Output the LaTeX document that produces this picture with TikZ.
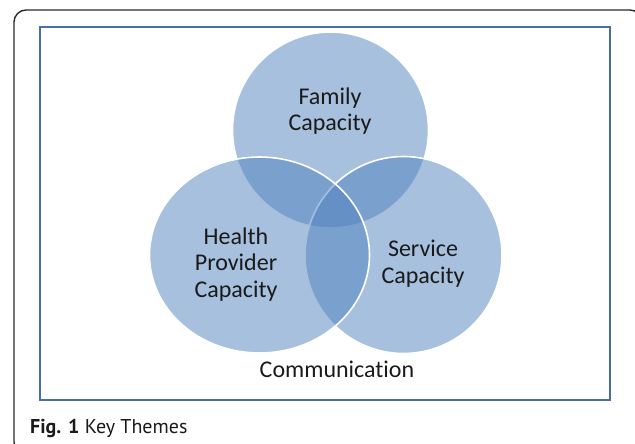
\documentclass[tikz,border=0pt]{standalone}
\usepackage{fontspec}
\setmainfont{Carlito}[Ligatures=NoCommon]
\newfontfamily\captionfont{PT Sans}
\definecolor{themeblue}{HTML}{4F81BD}
\definecolor{framegray}{HTML}{2B2B2B}
\definecolor{panelblue}{HTML}{4A6DA6}
\definecolor{labelink}{HTML}{1A1A1A}
\begin{document}
\begin{tikzpicture}[x=1pt,y=-1pt,
  theme/.style={fill=themeblue, fill opacity=0.5, draw=white, line width=1.6pt},
  themelabel/.style={align=center, font=\fontsize{24}{26.5}\selectfont, text=labelink, inner sep=0pt, anchor=base}]
\useasboundingbox (0,0) rectangle (635,444);
% outer rounded frame and the panel
\draw[framegray, line width=1.4pt, rounded corners=12pt] (14,10) rectangle (642,454);
\draw[panelblue, line width=2.6pt] (40,27) rectangle (610,400);
% the three themes, drawn in stacking order
\path[theme] (330.5,130) circle[radius=98];
\path[theme] (403.5,255) circle[radius=98.5];
\path[theme] (259.5,255) ellipse[x radius=110, y radius=98];
% labels
\node[themelabel] (family) at (330,131) {Family\\Capacity};
\node[themelabel] (health) at (236,297) {Health\\Provider\\Capacity};
\node[themelabel] (service) at (423,283) {Service\\Capacity};
\node[themelabel] (comm) at (337,377) {Communication};
% caption
\node[anchor=base west, inner sep=0pt, text=labelink, font=\captionfont\fontsize{20}{24}\selectfont] (caption) at (30,433) {\textbf{Fig. 1} Key Themes};
\end{tikzpicture}
\end{document}
